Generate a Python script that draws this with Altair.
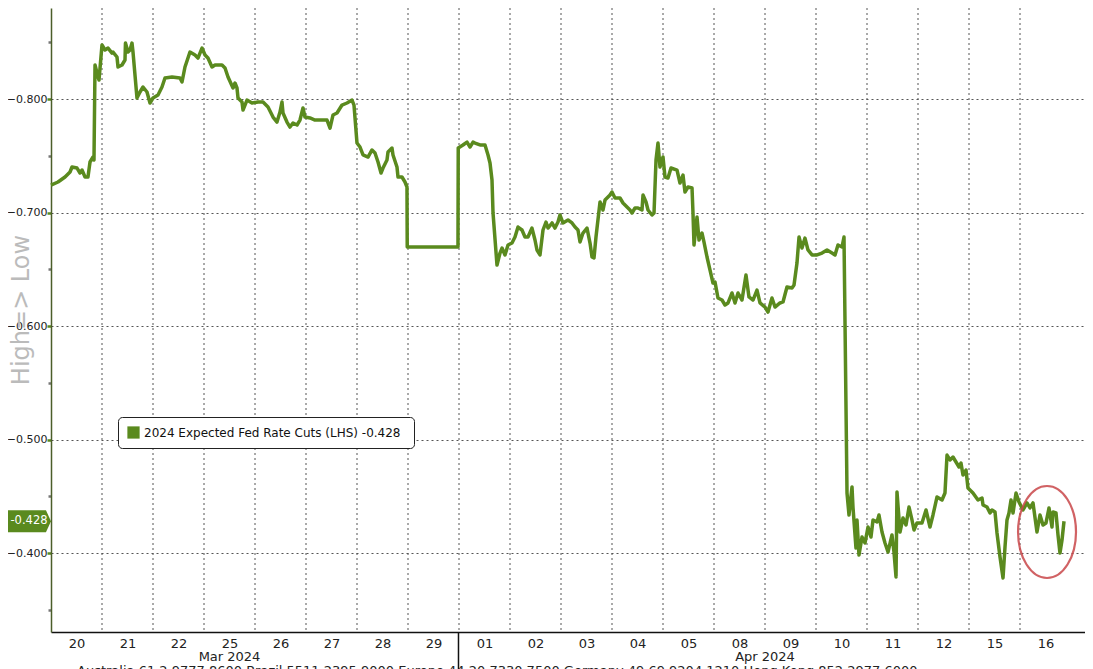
import altair as alt
import pandas as pd

# ---------------- data ----------------
DAYS = ["20", "21", "22", "25", "26", "27", "28", "29", "01", "02",
        "03", "04", "05", "08", "09", "10", "11", "12", "15", "16"]
MONTH_LABELS = ["Mar 2024", "Apr 2024"]
MONTH_POS = [3.5, 14.0]
MONTH_BREAK = [7.99]
SERIES = "2024 Expected Fed Rate Cuts (LHS)"
LAST = -0.428
Y_TICKS = [-0.85, -0.80, -0.75, -0.70, -0.65, -0.60, -0.55, -0.50, -0.45, -0.40, -0.35]
HILITE_T = [19.53]
HILITE_V = [-0.4185]
FOOTER = "Australia 61 2 9777 8600 Brazil 5511 2395 9000 Europe 44 20 7330 7500 Germany 49 69 9204 1210 Hong Kong 852 2977 6000"

# positions in trading days (day index + fraction of day)
T_W1 = [0.000, 0.137, 0.275, 0.373, 0.412, 0.510, 0.569, 0.608, 0.667, 0.725, 0.765, 0.824, 0.843, 0.863, 0.922, 0.941,
        1.000, 1.059, 1.118, 1.196, 1.216, 1.294, 1.314, 1.392, 1.451, 1.460, 1.510, 1.549, 1.588, 1.608, 1.686, 1.745, 1.804, 1.882, 1.941,
        2.000, 2.098, 2.176, 2.235, 2.373, 2.529, 2.569, 2.627, 2.725, 2.824, 2.882, 2.961]
V_W1 = [-0.7242, -0.7269, -0.7313, -0.7357, -0.7401, -0.7392, -0.7348, -0.7374, -0.7313, -0.7313, -0.7445, -0.7489, -0.7463, -0.8300, -0.8194, -0.8167,
        -0.8476, -0.8432, -0.8449, -0.8405, -0.8414, -0.8370, -0.8282, -0.8300, -0.8344, -0.8493, -0.8414, -0.8432, -0.8493, -0.8414, -0.8009, -0.8062, -0.8106, -0.8062, -0.7965,
        -0.8009, -0.8035, -0.8106, -0.8185, -0.8194, -0.8185, -0.8150, -0.8282, -0.8414, -0.8388, -0.8361, -0.8449]

T_W2 = [3.020, 3.078, 3.157, 3.216, 3.353, 3.412, 3.471, 3.569, 3.608, 3.647, 3.667, 3.745, 3.765, 3.843, 3.941,
        4.059, 4.157, 4.255, 4.353, 4.431, 4.490, 4.529, 4.549, 4.627, 4.686, 4.745, 4.824, 4.882, 4.941,
        4.980, 5.078, 5.176, 5.314, 5.412, 5.471, 5.529, 5.608, 5.706, 5.804, 5.902, 5.941,
        6.000, 6.059, 6.118, 6.216, 6.294, 6.353, 6.412, 6.471, 6.510, 6.588, 6.608, 6.686, 6.706, 6.784, 6.804, 6.882, 6.941, 6.980,
        6.985, 7.980]
V_W2 = [-0.8388, -0.8361, -0.8282, -0.8300, -0.8300, -0.8273, -0.8194, -0.8097, -0.8141, -0.8097, -0.8009, -0.7974, -0.7903, -0.7991, -0.7965,
        -0.7974, -0.7974, -0.7930, -0.7841, -0.7797, -0.7885, -0.7974, -0.7877, -0.7797, -0.7753, -0.7789, -0.7771, -0.7815, -0.7921,
        -0.7841, -0.7833, -0.7815, -0.7815, -0.7815, -0.7744, -0.7859, -0.7877, -0.7947, -0.7965, -0.7991, -0.7947,
        -0.7612, -0.7577, -0.7507, -0.7489, -0.7551, -0.7524, -0.7445, -0.7348, -0.7392, -0.7463, -0.7533, -0.7568, -0.7507, -0.7401, -0.7313, -0.7313, -0.7269, -0.7225,
        -0.6696, -0.6696]

T_W3 = [7.985, 8.078, 8.157, 8.216, 8.275, 8.314, 8.412, 8.510, 8.569, 8.608, 8.647, 8.667, 8.745, 8.804, 8.843, 8.902, 8.961,
        9.039, 9.098, 9.157, 9.235, 9.294, 9.353, 9.431, 9.490, 9.529, 9.588, 9.647, 9.706, 9.745, 9.824, 9.882, 9.941,
        9.980, 10.039, 10.137, 10.216, 10.275, 10.333, 10.373, 10.431, 10.510, 10.569, 10.608, 10.647, 10.686, 10.765, 10.824, 10.863, 10.961,
        11.000, 11.059, 11.157, 11.216, 11.294, 11.353, 11.392, 11.451, 11.510, 11.588, 11.608, 11.667, 11.706, 11.784, 11.824, 11.863, 11.902,
        11.941, 12.000, 12.039, 12.098, 12.157, 12.275, 12.333, 12.392, 12.431, 12.490, 12.569, 12.588, 12.608, 12.667, 12.706, 12.765, 12.804, 12.863, 12.922, 12.980]
V_W3 = [-0.7568, -0.7595, -0.7621, -0.7577, -0.7621, -0.7612, -0.7595, -0.7595, -0.7507, -0.7436, -0.7286, -0.6996, -0.6537, -0.6643, -0.6687, -0.6626, -0.6714,
        -0.6731, -0.6784, -0.6872, -0.6846, -0.6784, -0.6784, -0.6863, -0.6758, -0.6670, -0.6626, -0.6846, -0.6916, -0.6863, -0.6908, -0.6863, -0.6916,
        -0.6978, -0.6908, -0.6934, -0.6908, -0.6872, -0.6846, -0.6740, -0.6819, -0.6863, -0.6731, -0.6608, -0.6599, -0.6784, -0.7093, -0.7022, -0.7110, -0.7154,
        -0.7181, -0.7128, -0.7128, -0.7084, -0.7049, -0.7022, -0.6996, -0.7040, -0.7040, -0.7022, -0.7154, -0.7093, -0.7022, -0.6978, -0.6996, -0.7463, -0.7612,
        -0.7401, -0.7489, -0.7313, -0.7304, -0.7392, -0.7374, -0.7260, -0.7330, -0.7181, -0.7225, -0.7216, -0.6996, -0.6714, -0.6960, -0.6758, -0.6819, -0.6740, -0.6608, -0.6493, -0.6379]

T_W4 = [13.020, 13.078, 13.157, 13.216, 13.275, 13.353, 13.412, 13.471, 13.549, 13.627, 13.686, 13.765, 13.843, 13.902,
        14.000, 14.059, 14.137, 14.196, 14.294, 14.353, 14.431, 14.529, 14.569, 14.627, 14.667, 14.725, 14.784, 14.843, 14.922,
        15.020, 15.118, 15.216, 15.314, 15.373, 15.431, 15.510, 15.549, 15.608, 15.647, 15.706, 15.725, 15.784, 15.804, 15.843, 15.902, 15.961,
        16.020, 16.078, 16.118, 16.196, 16.235, 16.294, 16.353, 16.412, 16.490, 16.529, 16.569, 16.588, 16.647, 16.706, 16.765, 16.824, 16.882, 16.922, 16.980,
        17.078, 17.157, 17.235, 17.294, 17.373, 17.471, 17.529, 17.569, 17.627, 17.686, 17.745, 17.804, 17.843, 17.882, 17.941, 17.980]
V_W4 = [-0.6388, -0.6247, -0.6229, -0.6185, -0.6203, -0.6291, -0.6203, -0.6291, -0.6229, -0.6449, -0.6256, -0.6229, -0.6317, -0.6203,
        -0.6167, -0.6123, -0.6247, -0.6167, -0.6203, -0.6212, -0.6344, -0.6335, -0.6361, -0.6555, -0.6784, -0.6687, -0.6775, -0.6670, -0.6626,
        -0.6626, -0.6643, -0.6670, -0.6643, -0.6626, -0.6714, -0.6696, -0.6784, -0.4529, -0.4335, -0.4582, -0.4405, -0.4044, -0.4291, -0.3982, -0.4141, -0.4088,
        -0.4229, -0.4141, -0.4291, -0.4274, -0.4335, -0.4185, -0.4088, -0.4009, -0.4159, -0.4009, -0.3789, -0.4538, -0.4185, -0.4309, -0.4247, -0.4405, -0.4291, -0.4203, -0.4265,
        -0.4265, -0.4379, -0.4229, -0.4335, -0.4494, -0.4467, -0.4529, -0.4863, -0.4820, -0.4846, -0.4802, -0.4758, -0.4793, -0.4687, -0.4731, -0.4573]

T_W5 = [18.078, 18.176, 18.255, 18.275, 18.353, 18.412, 18.451, 18.510, 18.549, 18.608, 18.667, 18.706, 18.745, 18.784, 18.824, 18.863, 18.922, 18.980,
        19.059, 19.137, 19.196, 19.255, 19.333, 19.392, 19.451, 19.510, 19.569, 19.627, 19.647, 19.706, 19.745, 19.784, 19.824, 19.863]
V_W5 = [-0.4529, -0.4467, -0.4485, -0.4423, -0.4405, -0.4353, -0.4379, -0.4361, -0.4176, -0.3965, -0.3780, -0.4053, -0.4291, -0.4353, -0.4467, -0.4353, -0.4529, -0.4450,
        -0.4379, -0.4441, -0.4397, -0.4441, -0.4185, -0.4335, -0.4247, -0.4265, -0.4397, -0.4229, -0.4361, -0.4353, -0.4159, -0.4000, -0.4115, -0.4280]

# ---------------- styling / layout ----------------
GREEN = "#5a8a1e"
DAY_PX = 51
W, H = 1034, 624
XMAX = W / DAY_PX
Y_DOMAIN = [-0.8802, -0.3304]
FONT = "DejaVu Sans"

T = T_W1 + T_W2 + T_W3 + T_W4 + T_W5
V = V_W1 + V_W2 + V_W3 + V_W4 + V_W5
df = pd.DataFrame({"t": T, "v": V, "i": range(len(T)), "s": SERIES})

xscale = alt.Scale(domain=[0, XMAX], nice=False, zero=False)
yscale = alt.Scale(domain=Y_DOMAIN, reverse=True, nice=False, zero=False)

day_array = "[" + ",".join("'%s'" % d for d in DAYS) + "]"
major_test = "round(datum.value*100) % 10 == 0"

x_axis = alt.Axis(
    values=[i + 0.5 for i in range(len(DAYS))],
    labelExpr=day_array + "[floor(datum.value)]",
    grid=False, ticks=False, title=None,
    domainColor="#111111", domainWidth=1.5,
    labelFont=FONT, labelFontSize=13, labelColor="#222222", labelPadding=5,
)
y_axis = alt.Axis(
    values=Y_TICKS, title=None,
    labelExpr="(" + major_test + ") ? format(datum.value, '.3f') : ''",
    grid=True, gridDash=[2, 3], gridColor="#555555", gridWidth=1,
    gridOpacity={"condition": {"test": "!(" + major_test + ")", "value": 0}, "value": 1},
    tickSize={"condition": {"test": major_test, "value": 4}, "value": 3},
    tickColor={"condition": {"test": major_test, "value": GREEN}, "value": "#777777"},
    tickWidth=2.5,
    domainColor="#4b5e2a", domainWidth=1.5,
    labelFont=FONT, labelFontSize=11, labelColor="#222222", labelPadding=0,
)

line = alt.Chart(df).mark_line(strokeWidth=3.5, strokeJoin="round").encode(
    x=alt.X("t:Q", scale=xscale, axis=x_axis),
    y=alt.Y("v:Q", scale=yscale, axis=y_axis),
    order="i:Q",
    color=alt.Color("s:N", scale=alt.Scale(range=[GREEN]), legend=alt.Legend(
        orient="none", legendX=67, legendY=409, title=None,
        symbolType="square", symbolFillColor=GREEN, symbolStrokeColor=GREEN,
        symbolStrokeWidth=0, symbolSize=150, labelLimit=500,
        labelFont=FONT, labelFontSize=12, labelColor="#111111",
        labelExpr="datum.label + '  " + format(LAST, ".3f") + "'",
        fillColor="white", strokeColor="#222222", cornerRadius=4, padding=9,
    )),
)

vgrid = alt.Chart(pd.DataFrame({"b": list(range(1, len(DAYS)))})).mark_rule(
    strokeDash=[2, 3], color="#555555", strokeWidth=1
).encode(x=alt.X("b:Q", scale=xscale))

months = alt.Chart(pd.DataFrame({"t": MONTH_POS, "label": MONTH_LABELS})).mark_text(
    font=FONT, fontSize=13, color="#222222", baseline="middle"
).encode(x=alt.X("t:Q", scale=xscale), y=alt.value(H + 25), text="label:N")

month_break = alt.Chart(pd.DataFrame({"t": MONTH_BREAK})).mark_rule(
    color="#111111", strokeWidth=1.5
).encode(x=alt.X("t:Q", scale=xscale), y=alt.value(H), y2=alt.value(H + 45))

tag_df = pd.DataFrame({"v": [LAST], "label": [format(LAST, ".3f")]})
tag = alt.Chart(tag_df).mark_point(
    shape="M -1,-0.48 L 0.78,-0.48 L 1,0 L 0.78,0.48 L -1,0.48 Z",
    filled=True, fill=GREEN, opacity=1, size=2116, strokeWidth=0
).encode(x=alt.value(-23), y=alt.Y("v:Q", scale=yscale))
tag_text = alt.Chart(tag_df).mark_text(
    font=FONT, fontSize=11.5, color="white", baseline="middle"
).encode(x=alt.value(-22), y=alt.Y("v:Q", scale=yscale), text="label:N")

side_title = alt.Chart(pd.DataFrame({"txt": ["High=> Low"]})).mark_text(
    font=FONT, fontSize=24, color="#bbbbbb", angle=270, baseline="middle"
).encode(x=alt.value(-29), y=alt.value(302), text="txt:N")

ellipse = alt.Chart(pd.DataFrame({"t": HILITE_T, "v": HILITE_V})).mark_point(
    shape="M 0,-1 A 0.63,1 0 1,1 0,1 A 0.63,1 0 1,1 0,-1 Z",
    filled=False, stroke="#c9474a", strokeWidth=2.2, opacity=0.85, size=8464
).encode(x=alt.X("t:Q", scale=xscale), y=alt.Y("v:Q", scale=yscale))

footer = alt.Chart(pd.DataFrame({"txt": [FOOTER]})).mark_text(
    font=FONT, fontSize=13, color="#222222", align="left", baseline="top"
).encode(x=alt.value(26), y=alt.value(H + 33), text="txt:N")

chart = alt.layer(
    vgrid, line, months, month_break, ellipse, tag, tag_text, side_title, footer
).properties(
    width=W, height=H, autosize="none",
    padding={"left": 43, "top": 0, "right": 0, "bottom": 37},
    background="white",
).configure_view(stroke=None)

chart.save("out.html", embed_options={"renderer": "svg", "actions": False})
